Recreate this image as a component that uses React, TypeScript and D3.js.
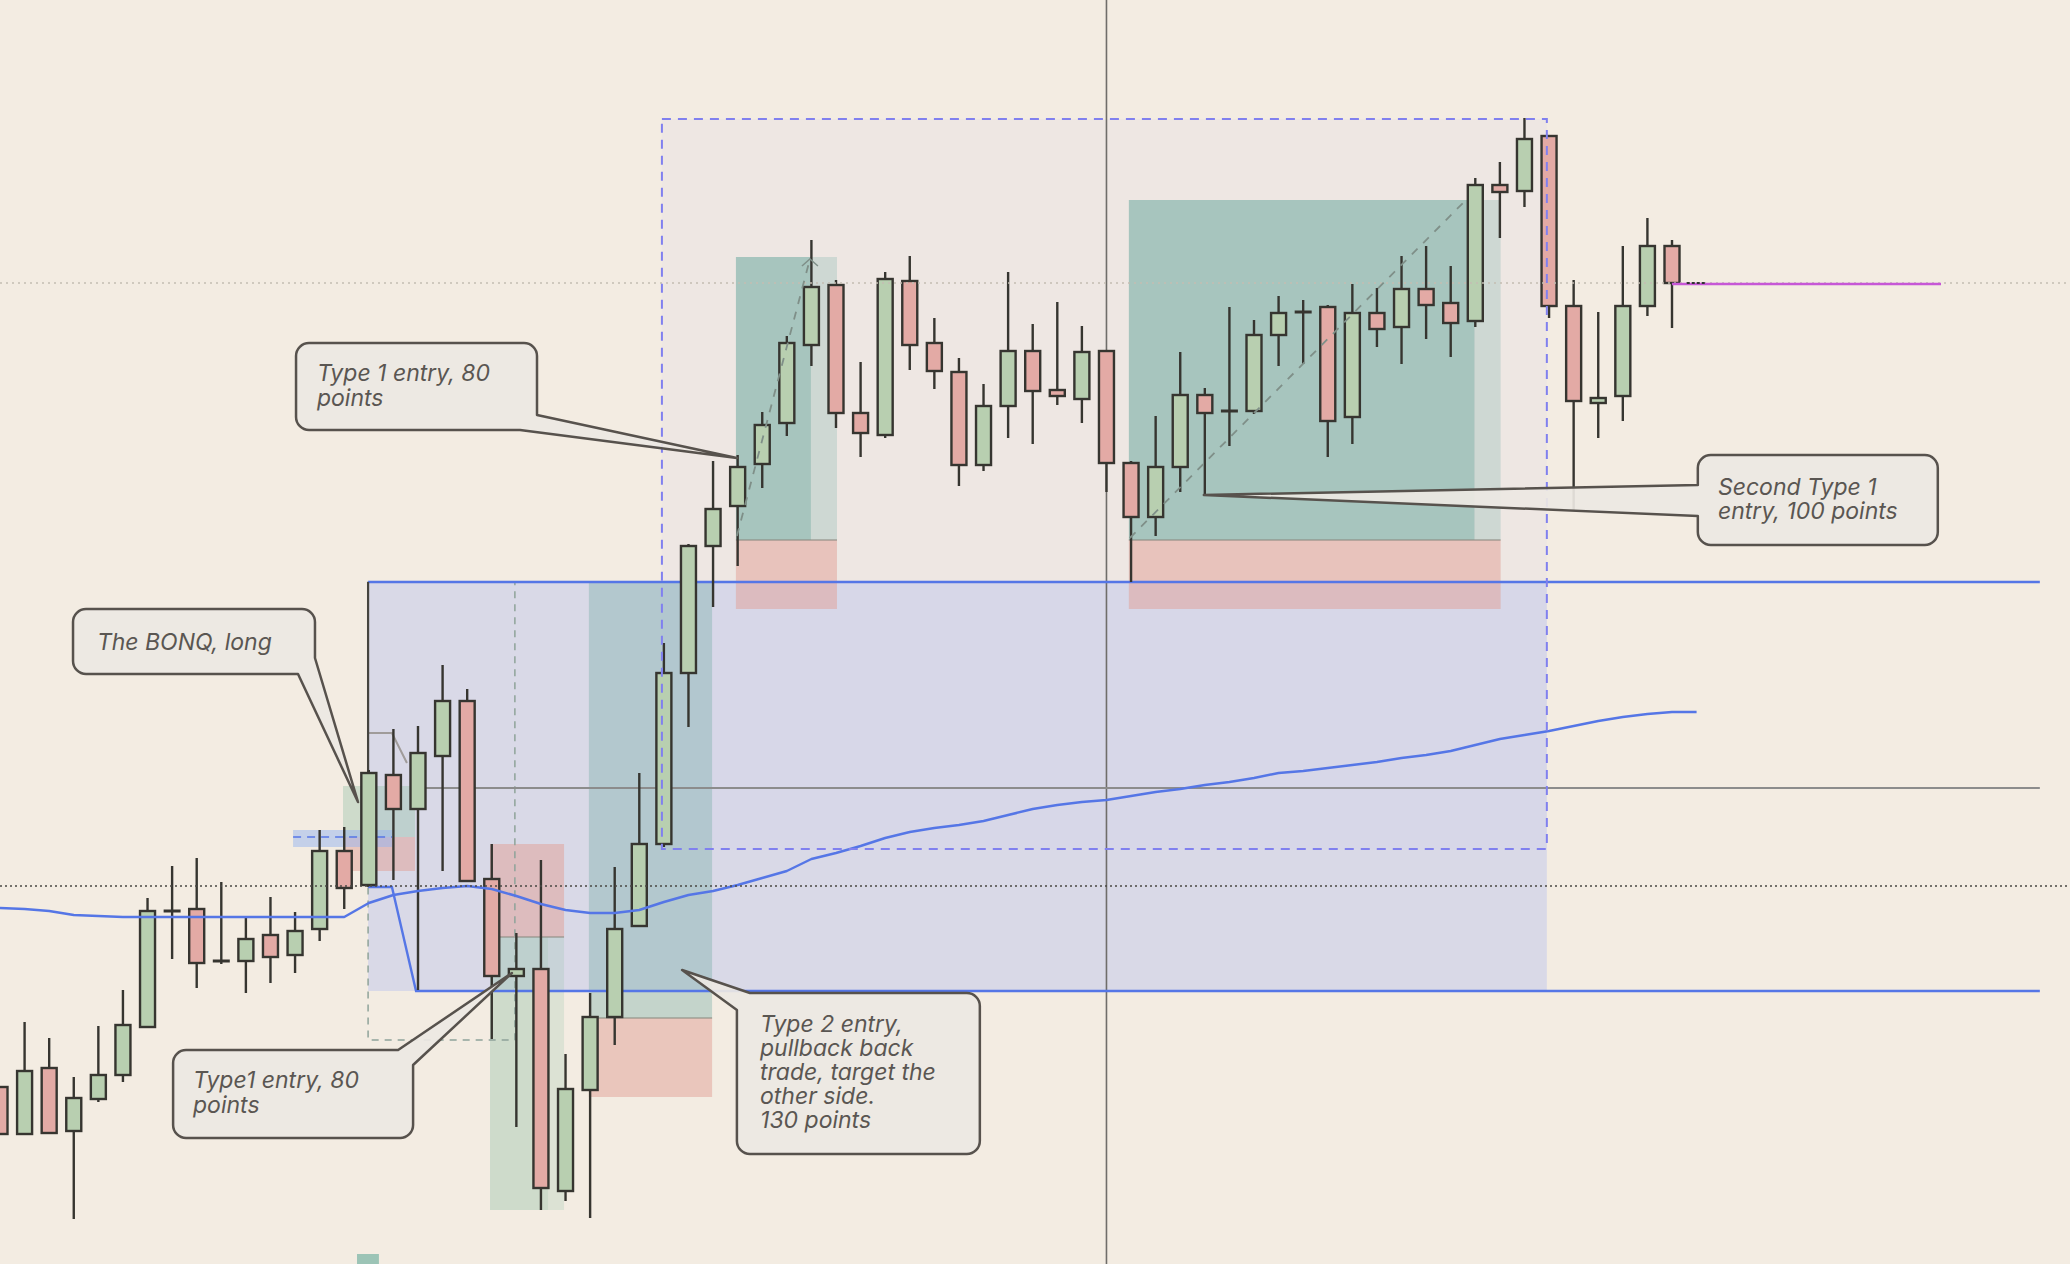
import React from 'react';
import * as d3 from 'd3';

const W = 2070;
const H = 1264;

// OHLC per bar (bar index 0..68)
const opens = [4177, 4130, 4196, 4133, 4165, 4189, 4237, 4353, 4355, 4303, 4303, 4329, 4309, 4335, 4413, 4379, 4489, 4455, 4508, 4563, 4385, 4288, 4295, 4073, 4174, 4247, 4338, 4420, 4591, 4718, 4758, 4800, 4841, 4919, 4979, 4851, 4829, 4983, 4921, 4892, 4799, 4858, 4913, 4874, 4865, 4913, 4801, 4747, 4797, 4869, 4853, 4853, 4929, 4952, 4957, 4847, 4951, 4937, 4975, 4961, 4943, 5079, 5073, 5128, 4958, 4861, 4868, 4958, 5018];
const highs = [4177, 4242, 4226, 4187, 4238, 4274, 4366, 4398, 4406, 4382, 4347, 4367, 4352, 4434, 4437, 4494, 4535, 4538, 4599, 4575, 4420, 4331, 4404, 4210, 4271, 4397, 4491, 4621, 4720, 4803, 4809, 4852, 4928, 5024, 4984, 4902, 4992, 5008, 4946, 4906, 4880, 4992, 4940, 4962, 4938, 4914, 4803, 4848, 4912, 4876, 4957, 4944, 4968, 4964, 4959, 4980, 4976, 5008, 5018, 4998, 5086, 5102, 5146, 5128, 4984, 4952, 5018, 5046, 5024];
const lows = [4130, 4130, 4131, 4045, 4162, 4182, 4237, 4305, 4276, 4300, 4271, 4281, 4291, 4323, 4355, 4378, 4384, 4274, 4393, 4383, 4225, 4137, 4054, 4063, 4046, 4219, 4338, 4417, 4537, 4657, 4698, 4776, 4828, 4898, 4836, 4807, 4826, 4894, 4875, 4778, 4793, 4826, 4820, 4859, 4841, 4772, 4682, 4728, 4772, 4769, 4818, 4850, 4898, 4900, 4807, 4820, 4917, 4900, 4925, 4907, 4937, 5026, 5057, 4946, 4753, 4826, 4843, 4948, 4936];
const closes = [4130, 4193, 4131, 4166, 4189, 4239, 4353, 4353, 4301, 4303, 4325, 4307, 4333, 4413, 4376, 4491, 4455, 4511, 4563, 4383, 4288, 4295, 4076, 4175, 4247, 4335, 4420, 4591, 4718, 4755, 4797, 4839, 4921, 4977, 4851, 4831, 4985, 4919, 4893, 4799, 4858, 4913, 4873, 4868, 4912, 4801, 4747, 4797, 4869, 4851, 4853, 4929, 4951, 4952, 4843, 4951, 4935, 4975, 4959, 4941, 5079, 5072, 5125, 4958, 4863, 4866, 4958, 5018, 4981];

// moving average (bar index 0..69)
const maValues = [4356, 4355, 4353, 4349, 4348, 4347, 4347, 4347, 4347, 4347, 4347, 4347, 4347, 4347, 4347, 4361, 4369, 4373, 4376, 4378, 4375, 4368, 4360, 4354, 4351, 4351, 4354, 4362, 4369, 4373, 4379, 4386, 4393, 4405, 4411, 4418, 4426, 4432, 4436, 4439, 4443, 4449, 4455, 4459, 4462, 4464, 4468, 4472, 4475, 4479, 4482, 4486, 4491, 4493, 4496, 4499, 4502, 4506, 4509, 4513, 4519, 4525, 4529, 4533, 4538, 4543, 4547, 4550, 4552, 4552];

// callout annotations (bar index / price anchored)
type Wedge = { side: 'br' | 'tr' | 'tl' | 'l'; a: number; b: number; tip: [number, number] };
type Callout = { i0: number; i1: number; p0: number; p1: number; wedge: Wedge; lines: string[]; tx: number; ty: number[] };

const callouts: Callout[] = [
  { i0: 12.04, i1: 21.84, p0: 4921, p1: 4834, wedge: { side: 'br', a: 4849, b: 21.15, tip: [29.97, 4806] }, lines: ['Type 1 entry, 80', 'points'], tx: 12.89, ty: [4883, 4858] },
  { i0: 2.97, i1: 12.81, p0: 4655, p1: 4590, wedge: { side: 'br', a: 4606, b: 12.12, tip: [14.56, 4462] }, lines: ['The BONQ, long'], tx: 3.94, ty: [4614] },
  { i0: 7.04, i1: 16.8, p0: 4214, p1: 4126, wedge: { side: 'tr', a: 16.19, b: 4199, tip: [20.82, 4291] }, lines: ['Type1 entry, 80', 'points'], tx: 7.85, ty: [4176, 4151] },
  { i0: 29.97, i1: 39.85, p0: 4271, p1: 4110, wedge: { side: 'tl', a: 4254, b: 30.5, tip: [27.74, 4294] }, lines: ['Type 2 entry,', 'pullback back', 'trade, target the', 'other side.', '130 points'], tx: 30.91, ty: [4232, 4208, 4184, 4160, 4136] },
  { i0: 69.05, i1: 78.81, p0: 4809, p1: 4719, wedge: { side: 'l', a: 4779, b: 4748, tip: [48.96, 4769] }, lines: ['Second Type 1', 'entry, 100 points'], tx: 69.87, ty: [4769, 4745] },
];

// position tools
const positions = [
  { i0: 29.93, i1: 34.04, iDark: 32.98, target: 5007, entry: 4724, stop: 4655, op: 0.55 },
  { i0: 45.91, i1: 61.03, iDark: 59.97, target: 5064, entry: 4724, stop: 4655, op: 0.55 },
  { i0: 23.95, i1: 28.96, iDark: 28.96, target: 4682, entry: 4246, stop: 4167, op: 0.35 },
];

const x = d3.scaleLinear().domain([0, 68]).range([0, 1672]);
const y = d3.scaleLinear().domain([4000, 5264]).range([H, 0]);

const UP = '#b8cfb0';
const DOWN = '#e3aaa5';
const EDGE = '#363530';
const BLUE = '#5576e6';
const TEAL = 'rgb(110,170,160)';
const PINK = 'rgb(225,160,150)';

function calloutPath(c: Callout): string {
  const x0 = x(c.i0), x1 = x(c.i1), y0 = y(c.p0), y1 = y(c.p1);
  const r = 13;
  const w = c.wedge;
  const [tx, ty] = [x(w.tip[0]), y(w.tip[1])];
  const arc = (ex: number, ey: number) => `A${r},${r} 0 0 1 ${ex},${ey}`;
  if (w.side === 'br') {
    const ay = y(w.a), bx = x(w.b);
    return `M${x0 + r},${y0} H${x1 - r} ${arc(x1, y0 + r)} V${ay} L${tx},${ty} L${bx},${y1} H${x0 + r} ${arc(x0, y1 - r)} V${y0 + r} ${arc(x0 + r, y0)} Z`;
  }
  if (w.side === 'tr') {
    const ax = x(w.a), by = y(w.b);
    return `M${x0 + r},${y0} H${ax} L${tx},${ty} L${x1},${by} V${y1 - r} ${arc(x1 - r, y1)} H${x0 + r} ${arc(x0, y1 - r)} V${y0 + r} ${arc(x0 + r, y0)} Z`;
  }
  if (w.side === 'tl') {
    const ay = y(w.a), bx = x(w.b);
    return `M${bx},${y0} H${x1 - r} ${arc(x1, y0 + r)} V${y1 - r} ${arc(x1 - r, y1)} H${x0 + r} ${arc(x0, y1 - r)} V${ay} L${tx},${ty} Z`;
  }
  const ay = y(w.a), by = y(w.b);
  return `M${x0 + r},${y0} H${x1 - r} ${arc(x1, y0 + r)} V${y1 - r} ${arc(x1 - r, y1)} H${x0 + r} ${arc(x0, y1 - r)} V${by} L${tx},${ty} L${x0},${ay} V${y0 + r} ${arc(x0 + r, y0)} Z`;
}

export default function App() {
  const idx = d3.range(opens.length);
  const bodyW = 15;
  const maLine = d3.line<number>().x((_, i) => x(i)).y((d) => y(d));
  const rect = (i0: number, i1: number, p0: number, p1: number) => ({
    x: x(i0), y: y(Math.max(p0, p1)), width: x(i1) - x(i0), height: Math.abs(y(p0) - y(p1)),
  });
  const xRight = x(82.96);

  return (
    <svg width={W} height={H} style={{ position: 'absolute', left: 0, top: 0, display: 'block' }}>
      <rect x={0} y={0} width={W} height={H} fill="#f3ece2" />

      <rect {...rect(26.92, 62.91, 5145, 4415)} fill="rgb(215,205,235)" fillOpacity={0.15} />
      <rect {...rect(14.97, 62.91, 4682, 4273)} fill="rgb(200,205,235)" fillOpacity={0.6} />

      {positions.map((p, k) => (
        <g key={'pos' + k}>
          <rect {...rect(p.i0, p.iDark, p.target, p.entry)} fill={TEAL} fillOpacity={p.op} />
          {p.i1 > p.iDark && <rect {...rect(p.iDark, p.i1, p.target, p.entry)} fill={TEAL} fillOpacity={p.op * 0.45} />}
          <rect {...rect(p.i0, p.i1, p.entry, p.stop)} fill={PINK} fillOpacity={0.5} />
          <line x1={x(p.i0)} x2={x(p.i1)} y1={y(p.entry)} y2={y(p.entry)} stroke="#8a8a80" strokeWidth={1.5} strokeOpacity={0.7} />
        </g>
      ))}

      <rect {...rect(19.93, 22.94, 4420, 4327)} fill={PINK} fillOpacity={0.5} />
      <rect {...rect(19.93, 22.29, 4327, 4054)} fill="rgb(150,195,170)" fillOpacity={0.4} />
      <rect {...rect(22.29, 22.94, 4327, 4054)} fill="rgb(150,195,170)" fillOpacity={0.25} />
      <line x1={x(19.93)} x2={x(22.94)} y1={y(4327)} y2={y(4327)} stroke="#8a8a80" strokeWidth={1.5} strokeOpacity={0.7} />

      <rect {...rect(13.95, 16.88, 4478, 4427)} fill="rgb(150,195,170)" fillOpacity={0.4} />
      <rect {...rect(13.95, 16.88, 4427, 4393)} fill={PINK} fillOpacity={0.5} />
      <rect {...rect(11.92, 15.94, 4434, 4417)} fill="rgb(150,180,240)" fillOpacity={0.5} />
      <line x1={x(11.92)} x2={x(15.94)} y1={y(4427)} y2={y(4427)} stroke={BLUE} strokeWidth={1.5} strokeDasharray="8 6" />

      <rect {...rect(14.97, 20.94, 4682, 4224)} fill="none" stroke="#8fa39a" strokeWidth={1.5} strokeDasharray="7 6" />

      <line x1={x(45)} x2={x(45)} y1={0} y2={H} stroke="#6f6d6a" strokeWidth={1.6} />
      <line x1={x(16.92)} x2={xRight} y1={y(4476)} y2={y(4476)} stroke="#8c8c8c" strokeWidth={2} />
      <polyline points={`${x(14.97)},${y(4531)} ${x(15.94)},${y(4531)} ${x(16.55)},${y(4501)}`} fill="none" stroke="#a09c9a" strokeWidth={2} />
      <line x1={x(14.97)} x2={xRight} y1={y(4682)} y2={y(4682)} stroke={BLUE} strokeWidth={2.4} />
      <polyline points={`${x(14.97)},${y(4377)} ${x(15.94)},${y(4377)} ${x(16.92)},${y(4273)} ${xRight},${y(4273)}`} fill="none" stroke={BLUE} strokeWidth={2.4} />
      <line x1={x(14.97)} x2={x(14.97)} y1={y(4682)} y2={y(4377)} stroke="#45443f" strokeWidth={2.2} />

      {idx.map((i) => {
        const o = opens[i], c = closes[i];
        const up = c >= o;
        const top = y(Math.max(o, c));
        const bot = y(Math.min(o, c));
        const cx = x(i);
        return (
          <g key={'c' + i}>
            <line x1={cx} x2={cx} y1={y(highs[i])} y2={y(lows[i])} stroke={EDGE} strokeWidth={2.4} />
            {bot - top < 2 ? (
              <line x1={cx - bodyW / 2 - 1} x2={cx + bodyW / 2 + 1} y1={top} y2={top} stroke={EDGE} strokeWidth={3} />
            ) : (
              <rect x={cx - bodyW / 2} y={top} width={bodyW} height={bot - top} fill={up ? UP : DOWN} stroke={EDGE} strokeWidth={2.4} />
            )}
          </g>
        );
      })}

      <path d={maLine(maValues) || ''} fill="none" stroke={BLUE} strokeWidth={2.5} strokeLinejoin="round" />

      <line x1={0} x2={W} y1={y(4981)} y2={y(4981)} stroke="#c4bdb3" strokeWidth={1.5} strokeDasharray="2 4" />
      <line x1={0} x2={W} y1={y(4378)} y2={y(4378)} stroke="#4a4844" strokeWidth={1.6} strokeDasharray="2 3" />

      <rect {...rect(26.92, 62.91, 5145, 4415)} fill="none" stroke="#8080ef" strokeWidth={2} strokeDasharray="9 7" />

      <line x1={x(29.97)} y1={y(4728)} x2={x(32.94)} y2={y(5005)} stroke="#7f8f88" strokeWidth={1.8} strokeDasharray="8 8" />
      <polyline points={`${x(32.94) - 8},${y(5005) + 7} ${x(32.94)},${y(5005)} ${x(32.94) + 8},${y(5005) + 7}`} fill="none" stroke="#7f8f88" strokeWidth={1.5} />
      <line x1={x(45.95)} y1={y(4726)} x2={x(59.62)} y2={y(5064)} stroke="#7f8f88" strokeWidth={1.8} strokeDasharray="8 8" />

      <line x1={x(68)} x2={x(78.94)} y1={y(4980)} y2={y(4980)} stroke="#c657d6" strokeWidth={2.5} />
      <line x1={x(68.6)} x2={x(69.4)} y1={y(4981)} y2={y(4981)} stroke="#333" strokeWidth={2} strokeDasharray="3 2" />

      {callouts.map((c, k) => (
        <g key={'co' + k}>
          <path d={calloutPath(c)} fill="#ede8e3" fillOpacity={0.92} stroke="#57524d" strokeWidth={2.5} strokeLinejoin="round" />
          {c.lines.map((t, j) => (
            <text key={j} x={x(c.tx)} y={y(c.ty[j])} fontFamily="Inter, 'Noto Sans', sans-serif" fontStyle="italic" fontSize={23} fill="#5a5652">
              {t}
            </text>
          ))}
        </g>
      ))}

      <rect {...rect(14.52, 15.41, 4010, 4000)} fill="#9cc4b6" />
    </svg>
  );
}
